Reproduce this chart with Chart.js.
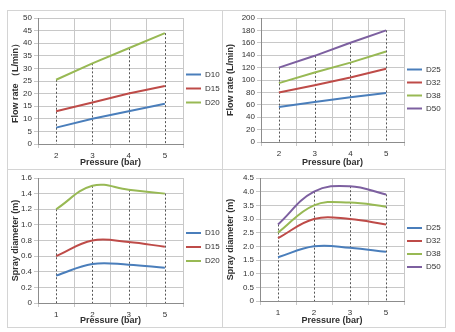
<!DOCTYPE html>
<html>
<head>
<meta charset="utf-8">
<script src="https://cdn.jsdelivr.net/npm/chart.js@4.4.0/dist/chart.umd.min.js"></script>
<style>
body{margin:0;background:#fff;width:455px;height:332px;position:relative;overflow:hidden;}
.panel{position:absolute;box-sizing:border-box;border:1px solid #d4d4d4;background:#fff;}
.panel canvas{position:absolute;left:0;top:0;}
</style>
</head>
<body>
<div class="panel" style="left:7px;top:10px;width:216px;height:160px;"><canvas id="flowSmall"></canvas></div>
<div class="panel" style="left:222px;top:10px;width:224px;height:160px;"><canvas id="flowLarge"></canvas></div>
<div class="panel" style="left:7px;top:169px;width:216px;height:159px;"><canvas id="spraySmall"></canvas></div>
<div class="panel" style="left:222px;top:169px;width:224px;height:159px;"><canvas id="sprayLarge"></canvas></div>
<script>
// pressure categories
var pressureFlow = ['2', '3', '4', '5'];
var pressureSpray = ['1', '2', '3', '5'];

// flow rate, small nozzles (L/min)
var smallNames = ['D10', 'D15', 'D20'];
var flowD10 = [6.5, 10, 13, 16];
var flowD15 = [13, 16.5, 20, 23];
var flowD20 = [25.5, 32, 38, 44];

// flow rate, large nozzles (L/min)
var largeNames = ['D25', 'D32', 'D38', 'D50'];
var flowD25 = [56.5, 64.5, 72, 79];
var flowD32 = [80, 91.5, 104, 118];
var flowD38 = [95, 112, 128, 146];
var flowD50 = [120, 139, 160, 180];

// spray diameter (m)
var sprayD10 = [0.35, 0.50, 0.49, 0.45];
var sprayD15 = [0.60, 0.80, 0.78, 0.72];
var sprayD20 = [1.20, 1.50, 1.45, 1.40];
var sprayD25 = [1.6, 2.0, 1.95, 1.8];
var sprayD32 = [2.3, 3.0, 3.0, 2.8];
var sprayD38 = [2.5, 3.5, 3.6, 3.45];
var sprayD50 = [2.8, 4.0, 4.2, 3.9];

var lineColors = ['#4A7EBB', '#BE4B48', '#98B954', '#7D60A0'];

Chart.defaults.font.family = '"Liberation Sans", Arial, sans-serif';
Chart.defaults.color = '#303030';

// dashed drop lines from the highest point down to the x axis
var dropLines = {
    id: 'dropLines',
    beforeDatasetsDraw: function(chart){
        var ctx = chart.ctx;
        var area = chart.chartArea;
        var metas = chart.getSortedVisibleDatasetMetas();
        ctx.save();
        ctx.strokeStyle = '#555';
        ctx.lineWidth = 1;
        ctx.setLineDash([2, 2]);
        for(var i = 0; i < chart.data.labels.length; i++){
            var top = area.bottom, x = null;
            metas.forEach(function(m){
                var p = m.data[i];
                if(p){ x = p.x; top = Math.min(top, p.y); }
            });
            if(x === null) continue;
            ctx.beginPath();
            ctx.moveTo(Math.round(x) + 0.5, top);
            ctx.lineTo(Math.round(x) + 0.5, area.bottom);
            ctx.stroke();
        }
        ctx.restore();
    }
};

// legend text as a one-line array so the row height follows font.lineHeight
function legendLabels(chart){
    var items = Chart.defaults.plugins.legend.labels.generateLabels(chart);
    items.forEach(function(it){ it.text = [it.text]; });
    return items;
}

function drawPanel(id, size, labels, names, series, yMax, yStep, yTitle, smooth){
    var canvas = document.getElementById(id);
    canvas.width = size.w;
    canvas.height = size.h;

    var sets = [];
    for(var i = 0; i < series.length; i++){
        sets.push({
            label: names[i],
            data: series[i],
            borderColor: lineColors[i],
            backgroundColor: lineColors[i],
            borderWidth: 2,
            pointRadius: 0,
            tension: smooth ? 0.4 : 0,
            fill: false
        });
    }

    return new Chart(canvas, {
        type: 'line',
        data: { labels: labels, datasets: sets },
        plugins: [dropLines],
        options: {
            responsive: false,
            animation: false,
            layout: { padding: 0 },
            plugins: {
                tooltip: { enabled: false },
                legend: {
                    display: true,
                    position: 'right',
                    maxWidth: size.legend,
                    labels: {
                        usePointStyle: true,
                        pointStyle: 'line',
                        pointStyleWidth: 15,
                        padding: 3,
                        font: { size: 8, lineHeight: series.length > 3 ? '10px' : '11px' },
                        color: '#303030',
                        generateLabels: legendLabels
                    }
                }
            },
            scales: {
                x: {
                    offset: true,
                    grid: { offset: true, color: '#c8c8c8', tickLength: 4 },
                    border: { color: '#8c8c8c' },
                    ticks: { font: { size: 8 }, padding: 3, maxRotation: 0 },
                    title: { display: true, text: 'Pressure (bar)', font: { size: 9, weight: 'bold' }, padding: { top: 0, bottom: 1 } },
                    afterFit: function(s){ s.height = size.xh; }
                },
                y: {
                    min: 0,
                    max: yMax,
                    grid: { color: '#c8c8c8', tickLength: 4 },
                    border: { color: '#8c8c8c' },
                    ticks: { stepSize: yStep, autoSkip: false, font: { size: 8 }, padding: 2 },
                    title: { display: true, text: yTitle, font: { size: 9, weight: 'bold' }, padding: { top: 2, bottom: 0 } },
                    afterFit: function(s){
                        s.width = size.yw;
                        s.paddingTop = size.top;
                    }
                }
            }
        }
    });
}

drawPanel('flowSmall', { w: 214, h: 158, top: 7, xh: 25, yw: 30, legend: 39 },
    pressureFlow, smallNames, [flowD10, flowD15, flowD20], 50, 5, 'Flow rate （L/min）', false);

drawPanel('flowLarge', { w: 222, h: 158, top: 7, xh: 27, yw: 38, legend: 41 },
    pressureFlow, largeNames, [flowD25, flowD32, flowD38, flowD50], 200, 20, 'Flow rate (L/min)', false);

drawPanel('spraySmall', { w: 214, h: 157, top: 8, xh: 24, yw: 30, legend: 39 },
    pressureSpray, smallNames, [sprayD10, sprayD15, sprayD20], 1.6, 0.2, 'Spray diameter (m)', true);

drawPanel('sprayLarge', { w: 222, h: 157, top: 8, xh: 26, yw: 37, legend: 41 },
    pressureSpray, largeNames, [sprayD25, sprayD32, sprayD38, sprayD50], 4.5, 0.5, 'Spray diameter (m)', true);
</script>
</body>
</html>
